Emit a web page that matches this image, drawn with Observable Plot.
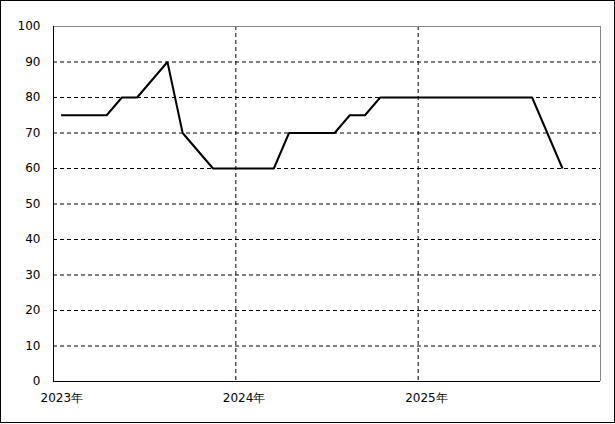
<!DOCTYPE html>
<html>
<head>
<meta charset="utf-8">
<script src="https://cdn.jsdelivr.net/npm/d3@7"></script>
<script src="https://cdn.jsdelivr.net/npm/@observablehq/plot@0.6"></script>
<style>
  html, body { margin: 0; padding: 0; background: #fff; }
  #frame { width: 615px; height: 423px; border: 1px solid #000; box-sizing: border-box; overflow: hidden; }
  #frame svg { display: block; }
</style>
</head>
<body>
<div id="frame"></div>
<script>
// ---- data ----
const months = [
  "2023-01","2023-02","2023-03","2023-04","2023-05","2023-06","2023-07","2023-08","2023-09","2023-10","2023-11","2023-12",
  "2024-01","2024-02","2024-03","2024-04","2024-05","2024-06","2024-07","2024-08","2024-09","2024-10","2024-11","2024-12",
  "2025-01","2025-02","2025-03","2025-04","2025-05","2025-06","2025-07","2025-08","2025-09","2025-10"
];
const values = [
  75, 75, 75, 75, 80, 80, 85, 90, 70, 65, 60, 60,
  60, 60, 60, 70, 70, 70, 70, 75, 75, 80, 80, 80,
  80, 80, 80, 80, 80, 80, 80, 80, 70, 60
];
const yearLabels = ["2023年", "2024年", "2025年"];
const yearStarts = ["2023-01", "2024-01", "2025-01"];
const yTicks = [0, 10, 20, 30, 40, 50, 60, 70, 80, 90, 100];
const yGrid = [10, 20, 30, 40, 50, 60, 70, 80, 90];

// month string -> slot index (months since 2023-01); points sit mid-slot
const slot = s => { const [y, m] = s.split("-").map(Number); return (y - 2023) * 12 + (m - 1); };
const data = months.map((m, i) => ({ x: slot(m) + 0.5, v: values[i] }));
const yearTickPos = yearStarts.map(slot);
const xEnd = 36;

const font = "DejaVu Sans, sans-serif";

const chart = Plot.plot({
  width: 613,
  height: 421,
  marginLeft: 52,
  marginRight: 14,
  marginTop: 25,
  marginBottom: 41,
  style: { fontFamily: font, fontSize: "12px", color: "#000", background: "#fff" },
  x: { type: "linear", domain: [0, xEnd], label: null },
  y: { domain: [0, 100], label: null },
  marks: [
    Plot.ruleY(yGrid, { stroke: "#000", strokeWidth: 1, strokeDasharray: "4,3" }),
    Plot.ruleX(yearTickPos.slice(1), { stroke: "#000", strokeWidth: 1, strokeDasharray: "4,3" }),
    Plot.ruleY([100], { stroke: "#888", strokeWidth: 1 }),
    Plot.ruleX([xEnd], { stroke: "#888", strokeWidth: 1 }),
    Plot.ruleX([0], { stroke: "#000", strokeWidth: 1 }),
    Plot.ruleY([0], { stroke: "#000", strokeWidth: 1 }),
    Plot.line(data, { x: "x", y: "v", stroke: "#000", strokeWidth: 2, strokeLinejoin: "miter", strokeLinecap: "butt" }),
    Plot.axisX({
      ticks: yearTickPos,
      tickFormat: d => yearLabels[yearTickPos.indexOf(d)],
      tickSize: 0,
      tickPadding: 12,
      textAnchor: "start",
      dx: -13,
      fill: "#000",
      label: null
    }),
    Plot.axisY({
      ticks: yTicks,
      tickSize: 0,
      tickPadding: 13,
      fill: "#000",
      label: null
    })
  ]
});

document.getElementById("frame").appendChild(chart);
</script>
</body>
</html>
